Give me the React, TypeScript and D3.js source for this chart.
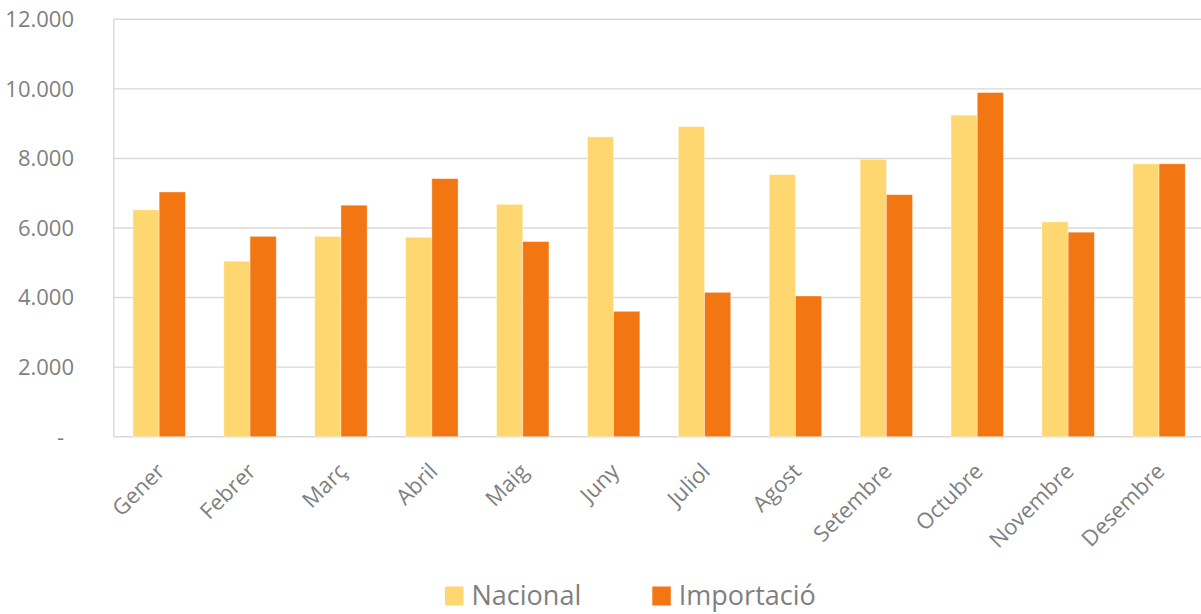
import React from "react";
import * as d3 from "d3";

const months = ["Gener", "Febrer", "Març", "Abril", "Maig", "Juny", "Juliol", "Agost", "Setembre", "Octubre", "Novembre", "Desembre"];
const nacional = [6520, 5045, 5760, 5735, 6680, 8620, 8915, 7535, 7975, 9245, 6175, 7845];
const importacio = [7035, 5760, 6655, 7420, 5610, 3605, 4150, 4045, 6960, 9895, 5880, 7845];
const seriesNames = ["Nacional", "Importació"];
const seriesColors = ["#FFD770", "#F27612"];
const yTicks = [0, 2000, 4000, 6000, 8000, 10000, 12000];

const W = 1201;
const H = 614;
const left = 113.7;
const right = 1204.5;
const top = 19.3;
const bottom = 436.7;

const fmt = (v: number) => (v === 0 ? "-" : d3.format(",")(v).replace(/,/g, "."));

export default function App() {
  const x = d3.scaleBand<string>().domain(months).range([left, right]).paddingInner(0.4235).paddingOuter(0.21175);
  const xs = d3.scaleBand<string>().domain(seriesNames).range([0, x.bandwidth()]);
  const y = d3.scaleLinear().domain([0, 12000]).range([bottom, top]);
  const data = [nacional, importacio];
  const font = "'Open Sans', sans-serif";
  const gray = "#7F7F7F";

  return (
    <div style={{ position: "absolute", left: 0, top: 0 }}>
      <svg width={W} height={H} style={{ display: "block" }}>
        <rect x={0} y={0} width={W} height={H} fill="#fff" />
        {yTicks.map((t) => (
          <line key={t} x1={left} x2={right} y1={y(t)} y2={y(t)} stroke="#D9D9D9" strokeWidth={1.4} />
        ))}
        <line x1={left} x2={left} y1={top} y2={bottom} stroke="#D9D9D9" strokeWidth={1.4} />
        {yTicks.map((t) => (
          <text
            key={"l" + t}
            x={t === 0 ? 64 : 74}
            y={y(t)}
            dy="0.36em"
            textAnchor="end"
            fontFamily={font}
            fontSize={22}
            fill={gray}
          >
            {fmt(t)}
          </text>
        ))}
        {months.map((m, i) => (
          <g key={m}>
            {data.map((s, j) => (
              <rect
                key={j}
                x={(x(m) as number) + (xs(seriesNames[j]) as number)}
                y={y(s[i])}
                width={xs.bandwidth()}
                height={y(0) - y(s[i])}
                fill={seriesColors[j]}
                stroke="#fff"
                strokeOpacity={0.5}
                strokeWidth={0.75}
              />
            ))}
          </g>
        ))}
        {months.map((m) => {
          const cx = (x(m) as number) + x.bandwidth() / 2;
          return (
            <text
              key={"x" + m}
              transform={`translate(${cx + 7},${bottom + 36}) rotate(-45)`}
              textAnchor="end"
              fontFamily={font}
              fontSize={22}
              fill={gray}
            >
              {m}
            </text>
          );
        })}
        {seriesNames.map((n, j) => {
          const lx = [445, 652.3][j];
          return (
            <g key={n}>
              <rect x={lx} y={586.5} width={18.5} height={19} fill={seriesColors[j]} />
              <text x={lx + 26.5} y={605.3} fontFamily={font} fontSize={27} fill={gray}>
                {n}
              </text>
            </g>
          );
        })}
      </svg>
    </div>
  );
}
